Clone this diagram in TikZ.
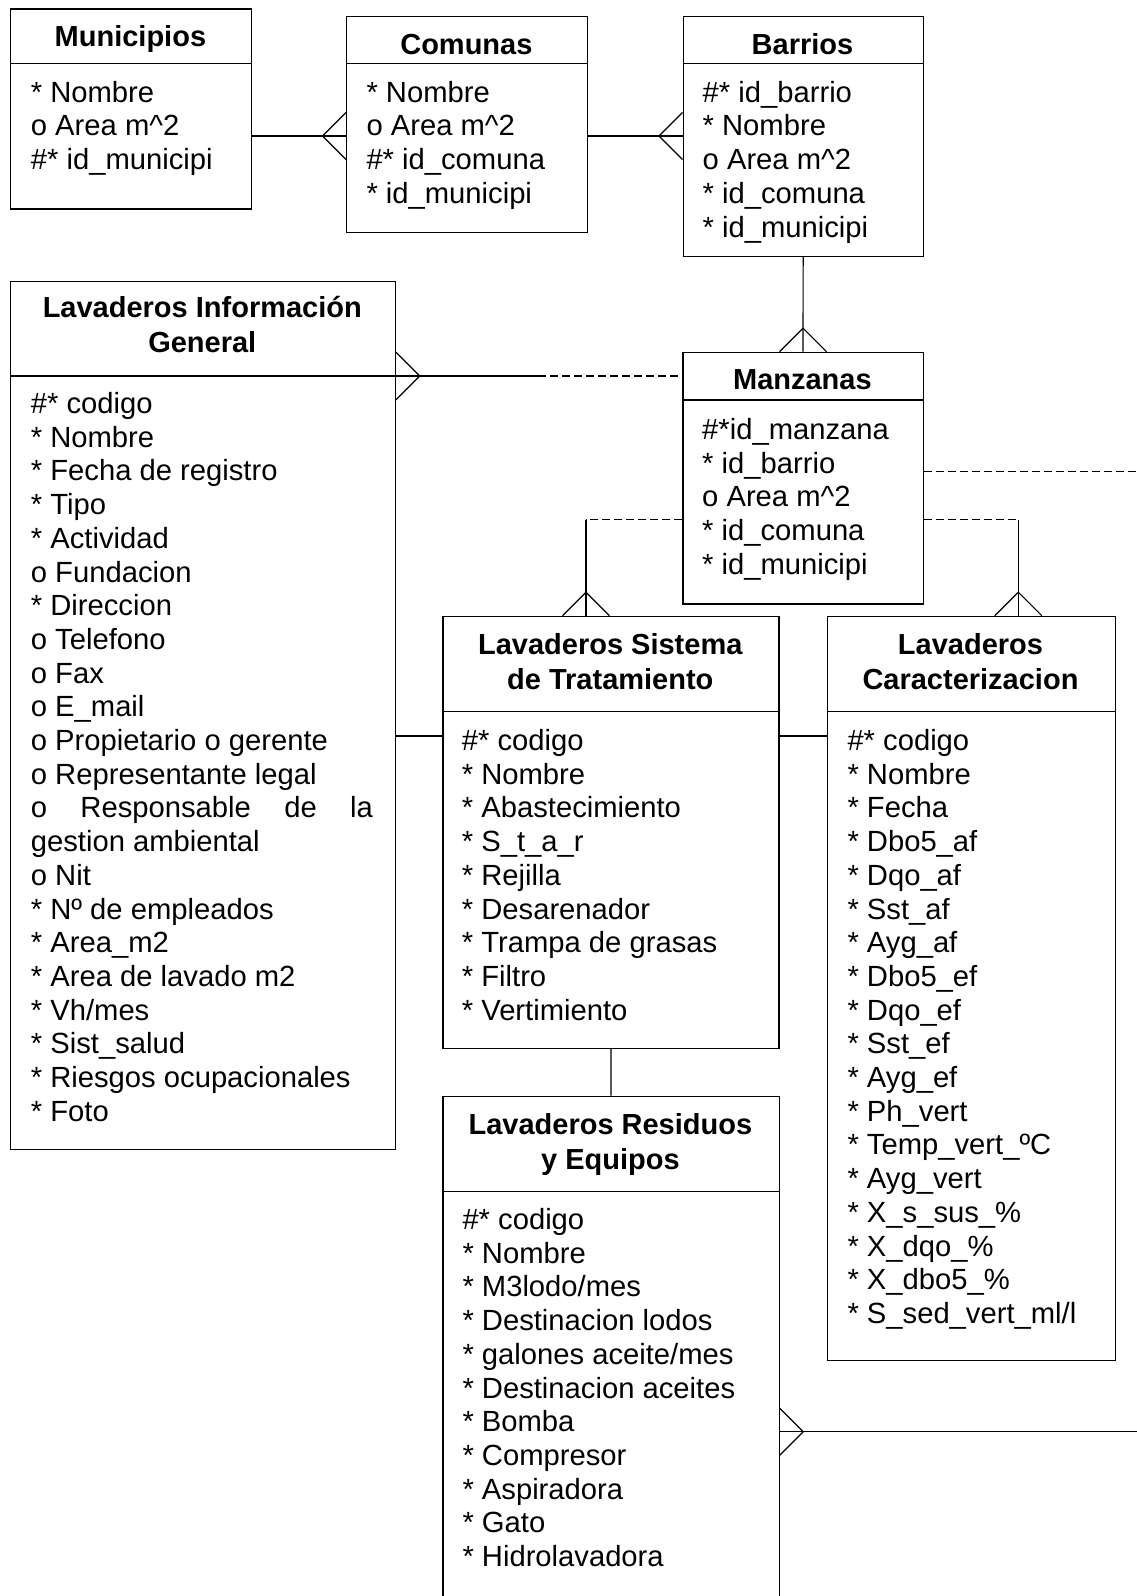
\documentclass[tikz,border=0pt]{standalone}
\usepackage{fontspec}
\setmainfont{Liberation Sans}
\newcommand\attrfont{\fontsize{29.2}{33.7}\selectfont}
\newcommand\ttlfont{\fontsize{29}{35.3}\selectfont\bfseries}
\newcommand\AttrList[1]{\begin{tabular}[t]{@{}l@{}}#1\end{tabular}}
\newcommand\TitleList[1]{\begin{tabular}[t]{@{}c@{}}#1\end{tabular}}
\begin{document}
\begin{tikzpicture}[x=1pt,y=-1pt,
 ent/.style={draw, line width=1.3pt, inner sep=0pt, anchor=north west},
 hsep/.style={line width=1.3pt},
 conn/.style={line width=1.2pt},
 dconn/.style={line width=1.2pt, dash pattern=on 8pt off 4pt},
 attr/.style={anchor=base west, inner sep=0pt, font=\attrfont},
 ttl/.style={anchor=base, inner sep=0pt, font=\ttlfont}]
\useasboundingbox (0,0) rectangle (1137,1596);
\fill[white] (0,0) rectangle (1137,1596);
\clip (0,0) rectangle (1137,1596);

% entity boxes
\node[ent, minimum width=240.7pt, minimum height=200pt] (mun) at (10,8.3) {};
\node[ent, minimum width=240.7pt, minimum height=216pt] (com) at (346,15.7) {};
\node[ent, minimum width=240pt, minimum height=239.8pt] (bar) at (682.5,15.7) {};
\node[ent, minimum width=240.2pt, minimum height=251.6pt] (man) at (682.3,351.7) {};
\node[ent, minimum width=384.5pt, minimum height=868pt] (lig) at (10,280.5) {};
\node[ent, minimum width=336pt, minimum height=432pt] (lst) at (442.3,615.7) {};
\node[ent, minimum width=288pt, minimum height=744.3pt] (lc) at (826.5,615.7) {};
\node[ent, minimum width=336.2pt, minimum height=540pt] (lre) at (442.3,1095.7) {};

% header separators
\draw[hsep] ([yshift=-55pt]mun.north west) -- ([yshift=-55pt]mun.north east);
\draw[hsep] ([yshift=-47.6pt]com.north west) -- ([yshift=-47.6pt]com.north east);
\draw[hsep] ([yshift=-47.6pt]bar.north west) -- ([yshift=-47.6pt]bar.north east);
\draw[hsep] ([yshift=-48.3pt]man.north west) -- ([yshift=-48.3pt]man.north east);
\draw[hsep] ([yshift=-95.5pt]lig.north west) -- ([yshift=-95.5pt]lig.north east);
\draw[hsep] ([yshift=-96pt]lst.north west) -- ([yshift=-96pt]lst.north east);
\draw[hsep] ([yshift=-96pt]lc.north west) -- ([yshift=-96pt]lc.north east);
\draw[hsep] ([yshift=-96pt]lre.north west) -- ([yshift=-96pt]lre.north east);

% titles
\node[ttl] (munT) at (130.4,46.7) {Municipios};
\node[ttl] (comT) at (466.4,54) {Comunas};
\node[ttl] (barT) at (802.5,54) {Barrios};
\node[ttl] (manT) at (802.4,389.3) {Manzanas};
\node[ttl] (ligT) at (202.3,317.4) {\TitleList{Lavaderos Información\\General}};
\node[ttl] (lstT) at (610.3,654) {\TitleList{Lavaderos Sistema\\de Tratamiento}};
\node[ttl] (lcT) at (970.5,654) {\TitleList{Lavaderos\\Caracterizacion}};
\node[ttl] (lreT) at (610.4,1134.3) {\TitleList{Lavaderos Residuos\\y Equipos}};

% attributes
\node[attr] (munA) at (30.7,102.2) {\AttrList{* Nombre\\o Area m\textasciicircum 2\\\#* id\_municipi}};
\node[attr] (comA) at (366.3,102.2) {\AttrList{* Nombre\\o Area m\textasciicircum 2\\\#* id\_comuna\\{}* id\_municipi}};
\node[attr] (barA) at (702.5,102.2) {\AttrList{\#* id\_barrio\\{}* Nombre\\o Area m\textasciicircum 2\\{}* id\_comuna\\{}* id\_municipi}};
\node[attr] (manA) at (702,439.5) {\AttrList{\#*id\_manzana\\{}* id\_barrio\\o Area m\textasciicircum 2\\{}* id\_comuna\\{}* id\_municipi}};
\node[attr] (ligA) at (30.7,413.5) {\AttrList{\#* codigo\\{}* Nombre\\{}* Fecha de registro\\{}* Tipo\\{}* Actividad\\o Fundacion\\{}* Direccion\\o Telefono\\o Fax\\o E\_mail\\o Propietario o gerente\\o Representante legal\\\makebox[342pt]{o\hfill Responsable\hfill de\hfill la}\\gestion ambiental\\o Nit\\{}* Nº de empleados\\{}* Area\_m2\\{}* Area de lavado m2\\{}* Vh/mes\\{}* Sist\_salud\\{}* Riesgos ocupacionales\\{}* Foto}};
\node[attr] (lstA) at (461.7,750.5) {\AttrList{\#* codigo\\{}* Nombre\\{}* Abastecimiento\\{}* S\_t\_a\_r\\{}* Rejilla\\{}* Desarenador\\{}* Trampa de grasas\\{}* Filtro\\{}* Vertimiento}};
\node[attr] (lcA) at (847.3,750.5) {\AttrList{\#* codigo\\{}* Nombre\\{}* Fecha\\{}* Dbo5\_af\\{}* Dqo\_af\\{}* Sst\_af\\{}* Ayg\_af\\{}* Dbo5\_ef\\{}* Dqo\_ef\\{}* Sst\_ef\\{}* Ayg\_ef\\{}* Ph\_vert\\{}* Temp\_vert\_ºC\\{}* Ayg\_vert\\{}* X\_s\_sus\_\%\\{}* X\_dqo\_\%\\{}* X\_dbo5\_\%\\{}* S\_sed\_vert\_ml/l}};
\node[attr] (lreA) at (462.3,1229.5) {\AttrList{\#* codigo\\{}* Nombre\\{}* M3lodo/mes\\{}* Destinacion lodos\\{}* galones aceite/mes\\{}* Destinacion aceites\\{}* Bomba\\{}* Compresor\\{}* Aspiradora\\{}* Gato\\{}* Hidrolavadora}};

% connectors
\coordinate (r1) at (0,136);
\draw[conn] (mun.east |- r1) -- (com.west |- r1);
\draw[conn] (com.west |- r1) ++(0,-23.5) -- ++(-23.5,23.5) -- ++(23.5,23.5);
\draw[conn] (com.east |- r1) -- (bar.west |- r1);
\draw[conn] (bar.west |- r1) ++(0,-23.5) -- ++(-23.5,23.5) -- ++(23.5,23.5);
\draw[conn] (bar.south) -- (man.north);
\draw[conn] (man.north) ++(-23.5,0) -- ++(23.5,-23.5) -- ++(23.5,23.5);

\coordinate (r2) at (0,376);
\coordinate (dA) at (538,376);
\draw[conn] (lig.east |- r2) -- (dA);
\draw[dconn] (dA) -- (man.west |- r2);
\draw[conn] (lig.east |- r2) ++(0,-24) -- ++(24,24) -- ++(-24,24);

\coordinate (r3) at (0,519.5);
\coordinate (kL) at (586,519.5);
\coordinate (kR) at (1018.3,519.5);
\draw[dconn] (man.west |- r3) -- (kL);
\draw[conn] (kL) -- (lst.north -| kL);
\draw[conn] (lst.north -| kL) ++(-23.5,0) -- ++(23.5,-23.5) -- ++(23.5,23.5);
\draw[dconn] (man.east |- r3) -- (kR);
\draw[conn] (kR) -- (lc.north -| kR);
\draw[conn] (lc.north -| kR) ++(-23.5,0) -- ++(23.5,-23.5) -- ++(23.5,23.5);

\coordinate (eA) at (1137,471.7);
\draw[dconn] (man.east |- eA) -- (eA);

\coordinate (r4) at (0,736);
\draw[conn] (lig.east |- r4) -- (lst.west |- r4);
\draw[conn] (lst.east |- r4) -- (lc.west |- r4);
\draw[conn] (lst.south) -- (lre.north);

\coordinate (eB) at (1137,1431.7);
\draw[conn] (lre.east |- eB) -- (eB);
\draw[conn] (lre.east |- eB) ++(0,-23.5) -- ++(23.5,23.5) -- ++(-23.5,23.5);
\end{tikzpicture}
\end{document}
